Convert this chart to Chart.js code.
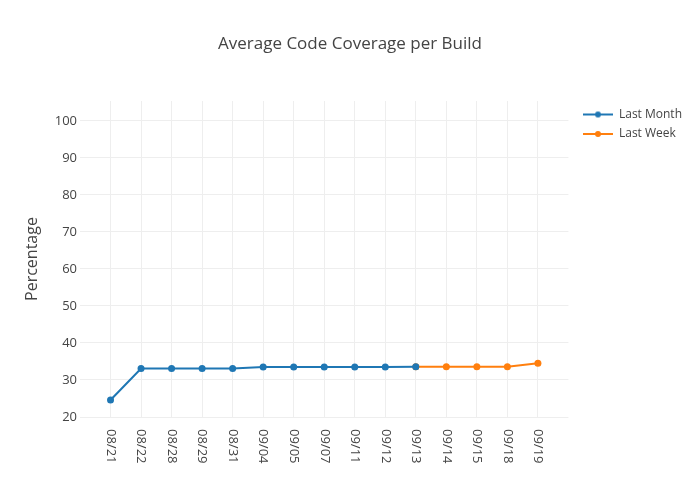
<!DOCTYPE html>
<html>
<head>
<meta charset="utf-8">
<title>Average Code Coverage per Build</title>
<script src="https://cdn.jsdelivr.net/npm/chart.js@4/dist/chart.umd.min.js"></script>
<style>
  html, body { margin: 0; padding: 0; background: #fff; }
  #wrap { width: 700px; height: 500px; }
</style>
</head>
<body>
<div id="wrap"><canvas id="coverageChart"></canvas></div>
<script>
// Build dates (category ticks)
const buildLabels = ["08/21", "08/22", "08/28", "08/29", "08/31", "09/04", "09/05", "09/07",
                     "09/11", "09/12", "09/13", "09/14", "09/15", "09/18", "09/19"];

// Last month runs from 08/21 to 09/13, last week from 09/13 to 09/19
const lastMonthStart = 0;
const lastMonthValues = [24.6, 33.1, 33.1, 33.1, 33.1, 33.5, 33.5, 33.5, 33.5, 33.5, 33.6];
const lastWeekStart = 10;
const lastWeekValues = [33.6, 33.6, 33.6, 33.6, 34.5];

const yTicks = [20, 30, 40, 50, 60, 70, 80, 90, 100];

const BLUE = "#1f77b4";
const ORANGE = "#ff7f0e";
const TEXT = "#444";
const FONT = "'Open Sans', verdana, arial, sans-serif";

function toPoints(start, values) {
  return values.map((v, i) => ({ x: start + i, y: v }));
}

// Plotly-style legend symbol: short line with a dot in the middle
function legendSymbol(color) {
  const c = document.createElement("canvas");
  c.width = 37; c.height = 10;
  const g = c.getContext("2d");
  g.strokeStyle = color;
  g.lineWidth = 2;
  g.beginPath();
  g.moveTo(7, 5); g.lineTo(37, 5);
  g.stroke();
  g.fillStyle = color;
  g.beginPath();
  g.arc(22, 5, 3, 0, Math.PI * 2);
  g.fill();
  return c;
}

// x tick labels rotated clockwise, read top to bottom
const rotatedXLabels = {
  id: "rotatedXLabels",
  afterDraw(chart) {
    const scale = chart.scales.x;
    const ctx = chart.ctx;
    ctx.save();
    ctx.font = "13px " + FONT;
    ctx.fillStyle = TEXT;
    ctx.textAlign = "left";
    ctx.textBaseline = "middle";
    buildLabels.forEach((lab, i) => {
      const x = scale.getPixelForValue(i);
      ctx.save();
      ctx.translate(x, chart.chartArea.bottom + 12);
      ctx.rotate(Math.PI / 2);
      ctx.fillText(lab, 0, 0);
      ctx.restore();
    });
    ctx.restore();
  }
};

const chart = new Chart(document.getElementById("coverageChart"), {
  type: "line",
  data: {
    datasets: [
      {
        label: "Last Month",
        data: toPoints(lastMonthStart, lastMonthValues),
        borderColor: BLUE,
        backgroundColor: BLUE,
        borderWidth: 2,
        pointRadius: 3.5,
        pointBorderWidth: 0,
        pointBackgroundColor: BLUE,
        tension: 0
      },
      {
        label: "Last Week",
        data: toPoints(lastWeekStart, lastWeekValues),
        borderColor: ORANGE,
        backgroundColor: ORANGE,
        borderWidth: 2,
        pointRadius: 3.5,
        pointBorderWidth: 0,
        pointBackgroundColor: ORANGE,
        tension: 0
      }
    ]
  },
  options: {
    responsive: true,
    maintainAspectRatio: false,
    animation: false,
    layout: { padding: { left: 8, right: 8, top: 0, bottom: 0 } },
    plugins: {
      title: {
        display: true,
        text: "Average Code Coverage per Build",
        color: TEXT,
        font: { family: FONT, size: 17, weight: "normal" },
        padding: { top: 34, bottom: 46.6 }
      },
      legend: {
        position: "right",
        align: "start",
        fullSize: false,
        labels: {
          usePointStyle: true,
          pointStyleWidth: 37,
          padding: 7.5,
          color: TEXT,
          font: { family: FONT, size: 12 },
          generateLabels(ch) {
            return ch.data.datasets.map((ds, i) => ({
              text: ds.label,
              pointStyle: legendSymbol(ds.borderColor),
              fillStyle: ds.borderColor,
              strokeStyle: ds.borderColor,
              lineWidth: 0,
              fontColor: TEXT,
              hidden: !ch.isDatasetVisible(i),
              datasetIndex: i
            }));
          }
        }
      },
      tooltip: { enabled: false }
    },
    scales: {
      x: {
        type: "linear",
        min: -1,
        max: 15,
        border: { display: false },
        grid: { color: "#eee", lineWidth: 1, drawTicks: false },
        ticks: { display: false, stepSize: 1 },
        afterBuildTicks(axis) {
          axis.ticks = buildLabels.map((_, i) => ({ value: i }));
        },
        afterFit(axis) { axis.height = 83; }
      },
      y: {
        min: 20,
        max: 105.4,
        border: { display: false },
        grid: { color: "#eee", lineWidth: 1, drawTicks: false },
        ticks: {
          color: TEXT,
          padding: 3,
          font: { family: FONT, size: 13 }
        },
        afterBuildTicks(axis) {
          axis.ticks = yTicks.map(v => ({ value: v }));
        },
        title: {
          display: true,
          text: "Percentage",
          color: TEXT,
          font: { family: FONT, size: 16 },
          padding: { top: 14.4, bottom: 0 }
        },
        afterFit(axis) { axis.width = 72; }
      }
    }
  },
  plugins: [rotatedXLabels]
});
</script>
</body>
</html>
